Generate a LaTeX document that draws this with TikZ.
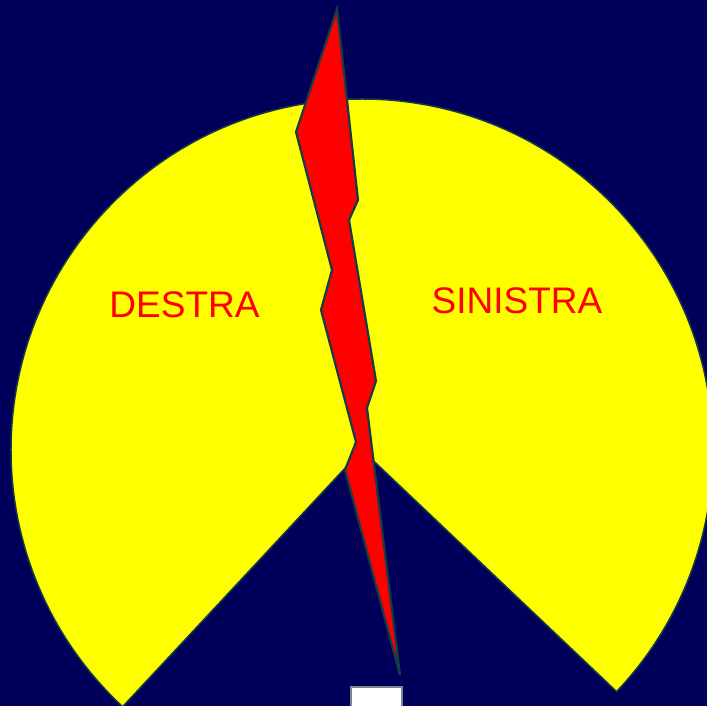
\documentclass[tikz,border=0pt]{standalone}
\usepackage{fontspec}
\setmainfont{Liberation Sans}
\definecolor{navy}{RGB}{0,0,90}
\definecolor{edge}{RGB}{20,60,70}
\definecolor{sun}{RGB}{255,255,0}
\definecolor{flame}{RGB}{255,0,0}
\begin{document}
\begin{tikzpicture}[x=1pt, y=-1pt,
    side/.style={text=flame, font=\fontsize{37}{40}\selectfont, inner sep=0pt}]
    \useasboundingbox (0,0) rectangle (707,706);
    \clip (0,0) rectangle (707,706);
    % ---- background ----
    \fill[navy] (0,0) rectangle (707,706);
    % ---- yellow disc with the wedge cut out ----
    \coordinate (c) at (362,450);
    \filldraw[sun, draw=edge, line width=1.5pt]
        (c) -- ++(133:351) arc[start angle=133, end angle=403.5, radius=351] -- cycle;
    % ---- crack ----
    \filldraw[flame, draw=edge, line width=2.2pt, line join=miter]
        (337,9) -- (358,200) -- (349,220) -- (376,381) -- (367,408) -- (400,675)
        -- (345,470) -- (356,442) -- (321,310) -- (332,270) -- (296,132) -- cycle;
    % ---- labels ----
    \node[side] (destra) at (184.5,304.5) {DESTRA};
    \node[side] (sinistra) at (517,301) {SINISTRA};
    % ---- box at the bottom ----
    \filldraw[white, draw=edge!60!white, line width=1.5pt] (351,687) rectangle (402,716);
\end{tikzpicture}
\end{document}
